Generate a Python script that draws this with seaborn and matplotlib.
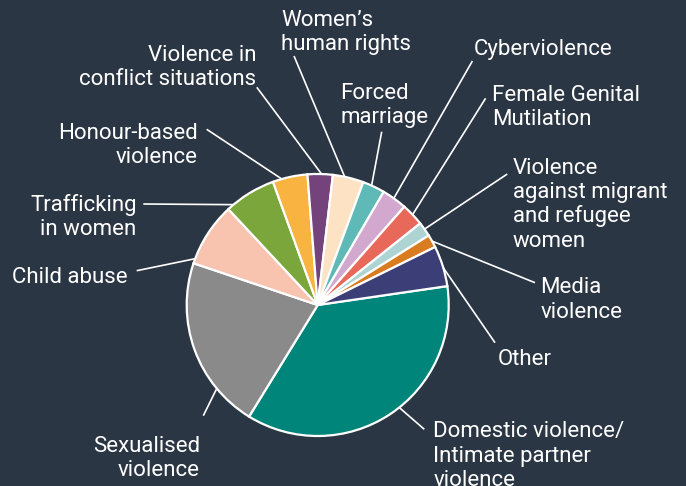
import matplotlib
matplotlib.use("Agg")
import matplotlib.pyplot as plt
import seaborn as sns
import numpy as np

# ---------------- data ----------------
categories = [
    "Domestic violence/\nIntimate partner\nviolence",
    "Sexualised\nviolence",
    "Child abuse",
    "Trafficking\nin women",
    "Honour-based\nviolence",
    "Violence in\nconflict situations",
    "Women\u2019s\nhuman rights",
    "Forced\nmarriage",
    "Cyberviolence",
    "Female Genital\nMutilation",
    "Violence\nagainst migrant\nand refugee\nwomen",
    "Media\nviolence",
    "Other",
]
values = [36.1, 21.4, 7.9, 6.4, 4.3, 3.1, 3.8, 2.75, 3.1, 2.8, 1.8, 1.6, 5.0]
colors = [
    "#00857a", "#8a8a8a", "#f8c4b0", "#7aa63c", "#f9b340", "#74437c",
    "#fde3c4", "#5fbab7", "#d3a8cf", "#e8695a", "#aed3d3", "#d97b1f", "#3c3e78",
]

# ---------------- layout (pixel coordinates, y downward) ----------------
W, H = 686, 486
BG = "#2b3644"
center_px = (317.7, 305.0)
radius_px = 131
# text anchor: x, baseline of first line, alignment
label_anchor = [
    (433.3, 437.3, "left"),
    (200.0, 451.7, "right"),
    (127.7, 283.3, "right"),
    (136.7, 210.7, "right"),
    (197.7, 139.0, "right"),
    (256.0, 61.0, "right"),
    (281.0, 26.0, "left"),
    (340.3, 99.3, "left"),
    (474.0, 55.0, "left"),
    (492.5, 101.0, "left"),
    (513.0, 174.0, "left"),
    (540.5, 293.3, "left"),
    (498.0, 365.0, "left"),
]
# connector: angle (deg) on the pie rim, end point near label
line_angle = [-51.5, 219.6, 159.3, 130.0, 105.9, 88.3, 78.1, 65.7, 54.5, 43.6, 35.4, 29.2, 16.5]
line_end = [
    (424.3, 429.3), (203.3, 415.7), (136.7, 270.7), (143.3, 204.0),
    (206.7, 129.3), (256.8, 87.3), (294.0, 56.0), (381.7, 131.7),
    (472.4, 61.0), (485.6, 98.3), (507.3, 174.0), (535.0, 282.7),
    (495.0, 342.7),
]
line_gap = 24.2

sns.set_theme(style="white")
plt.rcParams["font.family"] = ["Roboto", "DejaVu Sans"]

fig = plt.figure(figsize=(W / 100, H / 100), dpi=100, facecolor=BG)
ax = fig.add_axes([0, 0, 1, 1])
ax.set_facecolor(BG)

cx, cy = center_px[0], H - center_px[1]
ax.pie(values, colors=colors, startangle=8.3, counterclock=False,
       center=(cx, cy), radius=radius_px,
       wedgeprops=dict(edgecolor="white", linewidth=1.6))

for lab, (tx, ty, ha), ang, (ex, ey) in zip(categories, label_anchor, line_angle, line_end):
    a = np.deg2rad(ang)
    sx, sy = cx + radius_px * np.cos(a), cy + radius_px * np.sin(a)
    ax.plot([sx, ex], [sy, H - ey], color="white", lw=1.2, solid_capstyle="butt")
    for i, line in enumerate(lab.split("\n")):
        ax.text(tx, H - (ty + i * line_gap), line, ha=ha, va="baseline",
                color="white", fontsize=16)

ax.set_xlim(0, W)
ax.set_ylim(0, H)
ax.set_aspect("equal")
ax.axis("off")
fig.savefig("out.png", dpi=100, facecolor=BG)
